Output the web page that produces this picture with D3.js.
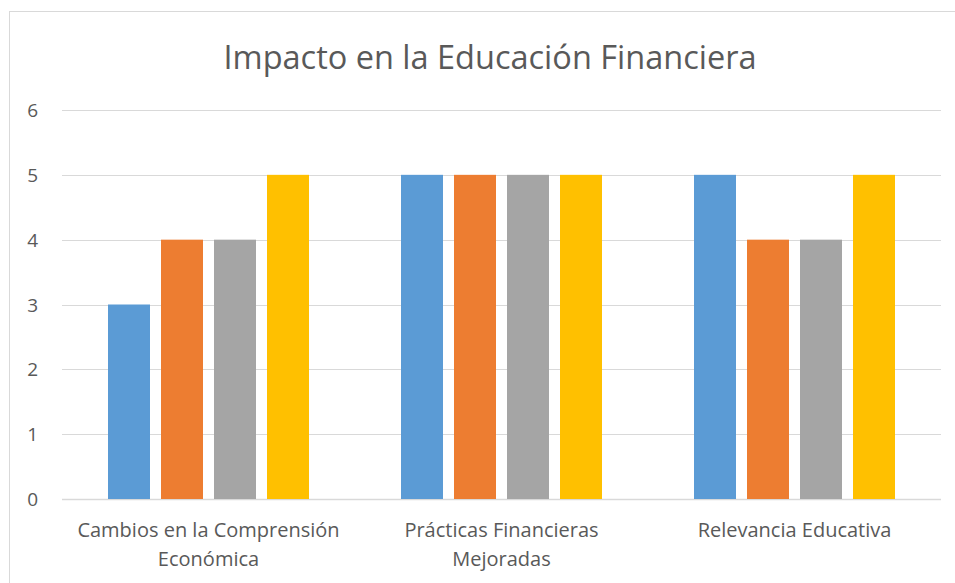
<!DOCTYPE html>
<html>
<head>
<meta charset="utf-8">
<script src="https://cdn.jsdelivr.net/npm/d3@7"></script>
<style>
  body { margin: 0; background: #fff; }
  text { font-family: "Open Sans", "Noto Sans", sans-serif; fill: #595959; }
</style>
</head>
<body>
<svg width="955" height="583"></svg>
<script>
// chart values
var categories = [
    ['Cambios en la Comprensión', 'Económica'],
    ['Prácticas Financieras', 'Mejoradas'],
    ['Relevancia Educativa']
];
var seriesNames = ['Serie 1', 'Serie 2', 'Serie 3', 'Serie 4'];
var seriesValues = [
    [3, 5, 5],
    [4, 5, 4],
    [4, 5, 4],
    [5, 5, 5]
];
var yTicks = [0, 1, 2, 3, 4, 5, 6];
var colors = ['#5b9bd5', '#ed7d31', '#a5a5a5', '#ffc000'];

var svg = d3.select('svg');

//outer chart border
svg.append('rect')
    .attr('x', 9.5)
    .attr('y', 11.5)
    .attr('width', 960)
    .attr('height', 600)
    .attr('fill', 'none')
    .attr('stroke', '#d9d9d9');

var padding = {t: 110, l: 62};
var plotRight = 941;
var plotBottom = 499;
var groupWidth = 4 * 53 - 11;

var x = d3.scaleBand()
    .domain(d3.range(categories.length))
    .range([padding.l, plotRight]);

var xInner = d3.scaleBand()
    .domain(d3.range(seriesNames.length))
    .range([0, groupWidth])
    .paddingInner(11 / 53);

var y = d3.scaleLinear()
    .domain([0, 6])
    .range([plotBottom, padding.t]);

//gridlines
svg.append('g')
    .selectAll('line')
    .data(yTicks)
    .enter()
    .append('line')
    .attr('x1', padding.l)
    .attr('x2', plotRight)
    .attr('y1', function(d) { return Math.round(y(d)) + 0.5; })
    .attr('y2', function(d) { return Math.round(y(d)) + 0.5; })
    .attr('stroke', '#d9d9d9')
    .attr('stroke-width', function(d) { return d === 0 ? 1.5 : 1; });

//y tick labels
svg.append('g')
    .selectAll('text')
    .data(yTicks)
    .enter()
    .append('text')
    .attr('x', 38)
    .attr('y', function(d) { return y(d) + 7; })
    .attr('text-anchor', 'end')
    .style('font-size', '19px')
    .text(function(d) { return d; });

//bars
var groups = svg.append('g')
    .selectAll('g')
    .data(categories)
    .enter()
    .append('g')
    .attr('transform', function(d, i) {
        var off = x(i) + (x.bandwidth() - groupWidth) / 2;
        return 'translate(' + off + ',0)';
    });

groups.selectAll('rect')
    .data(function(d, i) {
        return seriesValues.map(function(s, j) { return {s: j, v: s[i]}; });
    })
    .enter()
    .append('rect')
    .attr('x', function(d) { return xInner(d.s); })
    .attr('width', xInner.bandwidth())
    .attr('y', function(d) { return y(d.v); })
    .attr('height', function(d) { return plotBottom - y(d.v); })
    .attr('fill', function(d) { return colors[d.s]; });

//category labels
svg.append('g')
    .selectAll('text')
    .data(categories)
    .enter()
    .append('text')
    .attr('text-anchor', 'middle')
    .style('font-size', '20px')
    .each(function(d, i) {
        var t = d3.select(this);
        d.forEach(function(line, k) {
            t.append('tspan')
                .attr('x', x(i) + x.bandwidth() / 2)
                .attr('y', 537 + k * 29)
                .text(line);
        });
    });

//title
svg.append('text')
    .attr('x', 490)
    .attr('y', 69)
    .attr('text-anchor', 'middle')
    .style('font-size', '32.5px')
    .text('Impacto en la Educación Financiera');
</script>
</body>
</html>
